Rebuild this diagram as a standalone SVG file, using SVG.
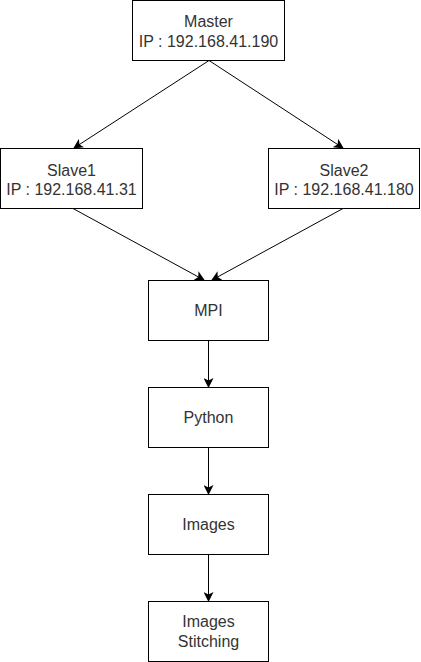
<svg xmlns="http://www.w3.org/2000/svg" width="421" height="662" viewBox="0 0 421 662">
<style>
.box{fill:#fff;stroke:#000;stroke-width:1}
.t{font-family:"Liberation Sans",Arial,sans-serif;font-size:16px;fill:#333;text-anchor:middle}
.e{stroke:#000;stroke-width:1;fill:none;marker-end:url(#arr)}
</style>
<defs>
<marker id="arr" viewBox="0 0 10 10" refX="9" refY="5" markerWidth="10" markerHeight="10" markerUnits="userSpaceOnUse" orient="auto">
<path d="M0,0 L10,5 L0,10 L2.5,5 Z" fill="#000"/>
</marker>
</defs>
<rect width="421" height="662" fill="#fff"/>
<g id="connectors">
<line class="e" x1="209" y1="60.5" x2="74" y2="148"/>
<line class="e" x1="209" y1="60.5" x2="343" y2="148"/>
<line class="e" x1="73" y1="208.5" x2="204" y2="280"/>
<line class="e" x1="343" y1="208.5" x2="212" y2="280"/>
<line class="e" x1="208.5" y1="340.5" x2="208.5" y2="387"/>
<line class="e" x1="208.5" y1="447.5" x2="208.5" y2="494"/>
<line class="e" x1="208.5" y1="554.5" x2="208.5" y2="601"/>
</g>
<g id="master">
<rect class="box" x="132.5" y="0.5" width="152" height="60"/>
<text class="t" x="208.5" y="27">Master</text>
<text class="t" x="208.5" y="47">IP : 192.168.41.190</text>
</g>
<g id="slave1">
<rect class="box" x="0.5" y="148.5" width="142" height="60"/>
<text class="t" x="71.5" y="176">Slave1</text>
<text class="t" x="71.5" y="195">IP : 192.168.41.31</text>
</g>
<g id="slave2">
<rect class="box" x="268.5" y="148.5" width="151" height="60"/>
<text class="t" x="344" y="176">Slave2</text>
<text class="t" x="344" y="195">IP : 192.168.41.180</text>
</g>
<g id="mpi">
<rect class="box" x="148.5" y="280.5" width="120" height="60"/>
<text class="t" x="208.5" y="316">MPI</text>
</g>
<g id="python">
<rect class="box" x="148.5" y="387.5" width="120" height="60"/>
<text class="t" x="208.5" y="423">Python</text>
</g>
<g id="images">
<rect class="box" x="148.5" y="494.5" width="120" height="60"/>
<text class="t" x="208.5" y="530">Images</text>
</g>
<g id="stitching">
<rect class="box" x="148.5" y="601.5" width="120" height="60"/>
<text class="t" x="208.5" y="627">Images</text>
<text class="t" x="208.5" y="647">Stitching</text>
</g>
</svg>
